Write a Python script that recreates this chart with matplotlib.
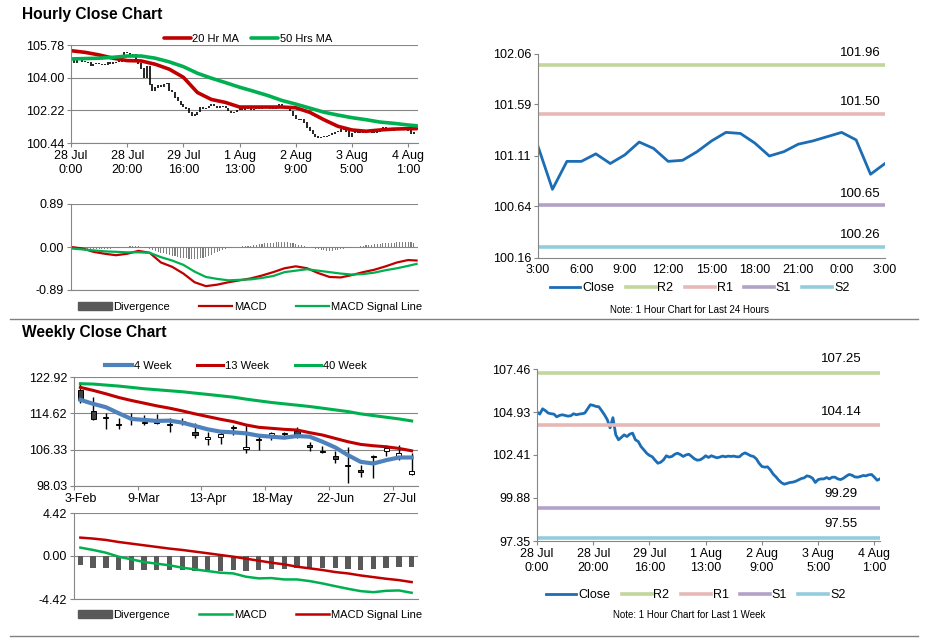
import numpy as np
import matplotlib.pyplot as plt
from matplotlib.lines import Line2D
from matplotlib.patches import Patch

plt.rcParams['font.family'] = ['Liberation Sans', 'DejaVu Sans']

W, H = 928, 638
GRAY = '#868686'
RED = '#C00000'
GREEN = '#00B050'
BLUE = '#4F81BD'
CLOSE_COL = '#1B6DB6'
LEVEL_COLS = ['#C3D69B', '#E6B9B8', '#B3A2C7', '#93CDDD']

# ---------------- hourly data (last week, one value per hour) ----------------
hourly_close = [
    104.93, 104.81, 105.12, 105.01, 104.87, 104.83, 104.81, 104.65, 104.73, 104.77,
    104.73, 104.69, 104.71, 104.83, 104.77, 104.81, 104.83, 104.87, 105.12, 105.36,
    105.32, 105.26, 105.24, 105.01, 104.77, 104.48, 104.00, 104.60, 103.60, 103.30,
    103.44, 103.59, 103.49, 103.63, 103.69, 103.30, 103.20, 102.90, 102.71, 102.51,
    102.38, 102.30, 102.10, 101.92, 101.98, 102.12, 102.36, 102.28, 102.32, 102.45,
    102.51, 102.43, 102.32, 102.41, 102.45, 102.32, 102.18, 102.10, 102.12, 102.22,
    102.36, 102.26, 102.36, 102.30, 102.24, 102.28, 102.34, 102.30, 102.34, 102.32,
    102.34, 102.30, 102.30, 102.45, 102.53, 102.45, 102.36, 102.32, 102.18, 101.92,
    101.73, 101.69, 101.71, 101.53, 101.28, 101.12, 100.92, 100.77, 100.69, 100.74,
    100.79, 100.81, 100.86, 100.94, 101.02, 101.06, 101.18, 101.14, 101.04, 100.79,
    100.96, 101.00, 101.00, 101.08, 101.00, 101.10, 101.10, 101.00, 100.96, 101.04,
    101.16, 101.26, 101.22, 101.12, 101.10, 101.14, 101.20, 101.18, 101.24, 101.26,
    101.10, 100.92, 101.00,
]
hourly_divergence = [
    -0.01, -0.02, -0.02, -0.03, -0.03, -0.04, -0.04, -0.04, -0.05, -0.05,
    -0.05, -0.05, -0.04, -0.04, -0.04, -0.03, -0.03, -0.02, -0.01, 0.00,
    0.01, 0.02, 0.03, 0.03, 0.02, 0.01, -0.01, -0.03, -0.05, -0.07,
    -0.09, -0.10, -0.12, -0.13, -0.15, -0.16, -0.18, -0.19, -0.21, -0.22,
    -0.23, -0.23, -0.24, -0.25, -0.25, -0.24, -0.23, -0.22, -0.20, -0.18,
    -0.16, -0.13, -0.11, -0.08, -0.06, -0.04, -0.03, -0.02, -0.01, 0.00,
    0.01, 0.02, 0.02, 0.03, 0.03, 0.04, 0.05, 0.06, 0.07, 0.08,
    0.08, 0.09, 0.09, 0.10, 0.10, 0.10, 0.10, 0.10, 0.09, 0.08,
    0.07, 0.05, 0.04, 0.02, 0.01, -0.01, -0.02, -0.04, -0.05, -0.06,
    -0.07, -0.08, -0.08, -0.08, -0.07, -0.06, -0.05, -0.04, -0.03, -0.02,
    -0.01, 0.00, 0.01, 0.02, 0.03, 0.04, 0.05, 0.05, 0.06, 0.07,
    0.07, 0.08, 0.08, 0.09, 0.09, 0.09, 0.10, 0.10, 0.10, 0.10,
    0.11, 0.10, 0.09,
]
ma_hours = [0, 5, 10, 15, 20, 25, 30, 35, 40, 45, 50, 55, 60, 65, 70, 75, 80, 85,
            90, 95, 100, 105, 110, 115, 120, 123]
ma20_hourly = [105.47, 105.38, 105.24, 105.06, 104.93, 104.91, 104.73, 104.46, 104.02,
               103.19, 102.81, 102.65, 102.40, 102.40, 102.40, 102.40, 102.36, 102.11,
               101.71, 101.35, 101.15, 101.08, 101.15, 101.20, 101.22, 101.22]
ma50_hourly = [105.02, 105.04, 105.06, 105.11, 105.18, 105.18, 105.06, 104.86, 104.60,
               104.24, 103.97, 103.73, 103.48, 103.26, 103.03, 102.76, 102.56, 102.34,
               102.12, 101.96, 101.82, 101.71, 101.58, 101.51, 101.42, 101.38]
macd_hours = [0, 4, 8, 12, 16, 20, 24, 28, 32, 36, 40, 44, 48, 52, 56, 60, 64, 68, 72,
              76, 80, 84, 88, 92, 96, 100, 104, 108, 112, 116, 120, 123]
macd_hourly = [0.00, -0.03, -0.10, -0.14, -0.17, -0.14, -0.08, -0.12, -0.32, -0.41,
               -0.55, -0.73, -0.81, -0.78, -0.73, -0.69, -0.65, -0.59, -0.52, -0.44,
               -0.40, -0.44, -0.54, -0.62, -0.63, -0.58, -0.52, -0.47, -0.40, -0.32,
               -0.27, -0.28]
signal_hourly = [-0.03, -0.05, -0.07, -0.09, -0.10, -0.11, -0.11, -0.12, -0.21, -0.28,
                 -0.37, -0.51, -0.62, -0.66, -0.69, -0.68, -0.67, -0.64, -0.60, -0.52,
                 -0.49, -0.46, -0.49, -0.52, -0.55, -0.57, -0.56, -0.53, -0.48, -0.44,
                 -0.39, -0.35]
hourly_tick_pos = [0, 20, 40, 60, 80, 100, 120]
hourly_tick_labels = ['28 Jul\n0:00', '28 Jul\n20:00', '29 Jul\n16:00', '1 Aug\n13:00',
                      '2 Aug\n9:00', '3 Aug\n5:00', '4 Aug\n1:00']

# ---------------- last 24 hours ----------------
close_24h = [101.20, 100.80, 101.06, 101.06, 101.13, 101.04, 101.12, 101.24, 101.18,
             101.06, 101.07, 101.15, 101.25, 101.33, 101.32, 101.23, 101.11, 101.15,
             101.22, 101.25, 101.29, 101.33, 101.26, 100.94, 101.04]
labels_24h = ['3:00', '6:00', '9:00', '12:00', '15:00', '18:00', '21:00', '0:00', '3:00']
levels_24h = [101.96, 101.50, 100.65, 100.26]
levels_week = [107.25, 104.14, 99.29, 97.55]
level_names = ['R2', 'R1', 'S1', 'S2']

# ---------------- weekly data ----------------
week_labels = ['3-Feb', '9-Mar', '13-Apr', '18-May', '22-Jun', '27-Jul']
w_open = [119.86, 115.26, 113.50, 112.10, 113.40, 112.40, 112.50, 112.00, 112.60,
          110.36, 108.67, 109.13, 111.30, 106.38, 108.60, 109.30, 109.80, 110.60,
          107.37, 106.00, 104.85, 102.50, 101.78, 104.60, 106.00, 104.85, 100.70]
w_close = [117.71, 113.27, 113.90, 112.00, 113.60, 112.60, 112.70, 112.20, 112.80,
           109.60, 109.13, 109.82, 111.50, 106.91, 108.80, 110.05, 110.00, 109.70,
           106.84, 105.80, 104.30, 102.70, 101.25, 104.85, 106.76, 105.46, 101.40]
w_high = [121.77, 118.32, 114.80, 113.50, 114.65, 114.30, 114.40, 113.65, 113.65,
          112.35, 110.44, 110.44, 111.90, 111.90, 109.82, 110.44, 110.44, 111.40,
          108.14, 107.10, 106.00, 107.00, 102.80, 105.07, 107.37, 107.37, 105.46]
w_low = [116.95, 113.12, 110.97, 110.97, 111.97, 112.00, 112.20, 110.40, 112.00,
         109.10, 107.37, 107.60, 109.70, 105.46, 106.22, 108.50, 109.30, 108.90,
         106.07, 105.46, 103.30, 98.80, 100.10, 99.94, 104.85, 103.93, 100.50]
ma4_week = [117.71, 116.79, 116.03, 114.65, 113.35, 113.12, 112.89, 112.96, 112.50,
            111.74, 110.97, 110.44, 110.28, 110.05, 109.52, 109.29, 109.06, 109.44,
            109.29, 108.14, 106.84, 105.08, 103.55, 103.16, 103.93, 104.54, 104.54]
ma13_week = [120.55, 119.86, 119.09, 118.25, 117.56, 116.95, 116.33, 115.80, 115.18,
             114.50, 113.88, 113.27, 112.73, 111.97, 111.43, 111.20, 110.97, 110.82,
             110.21, 109.67, 108.90, 108.14, 107.53, 107.22, 106.99, 106.61, 106.07]
ma40_week = [121.39, 121.31, 121.08, 120.85, 120.55, 120.24, 120.01, 119.78, 119.55,
             119.24, 118.94, 118.63, 118.32, 117.87, 117.48, 117.10, 116.79, 116.49,
             116.18, 115.80, 115.41, 115.03, 114.50, 114.11, 113.73, 113.35, 112.89]
macd_week = [0.86, 0.62, 0.34, -0.07, -0.34, -0.62, -0.79, -0.96, -1.20, -1.38, -1.55,
             -1.72, -1.79, -2.13, -2.30, -2.27, -2.41, -2.41, -2.58, -2.82, -3.10,
             -3.37, -3.61, -3.72, -3.58, -3.54, -3.78]
signal_week = [1.89, 1.79, 1.65, 1.44, 1.27, 1.10, 0.93, 0.76, 0.62, 0.45, 0.28, 0.10,
               -0.07, -0.28, -0.48, -0.69, -0.86, -1.10, -1.27, -1.44, -1.65, -1.79,
               -2.00, -2.17, -2.34, -2.48, -2.68]
div_week = [-0.96, -1.20, -1.27, -1.48, -1.48, -1.48, -1.48, -1.48, -1.48, -1.55,
            -1.48, -1.55, -1.48, -1.55, -1.48, -1.38, -1.31, -1.27, -1.27, -1.20,
            -1.27, -1.31, -1.44, -1.38, -1.20, -1.14, -1.14]

fig = plt.figure(figsize=(W / 100, H / 100), dpi=100)


def box(l, t, r, b):
    # axes placed by pixel edges (from top-left of the figure)
    return fig.add_axes([l / W, 1 - b / H, (r - l) / W, (b - t) / H])


def style(ax, grid=True):
    for s in ['top', 'right']:
        ax.spines[s].set_visible(False)
    for s in ['left', 'bottom']:
        ax.spines[s].set_color(GRAY)
        ax.spines[s].set_linewidth(0.8)
    ax.tick_params(colors=GRAY, labelcolor='black', labelsize=9, length=3, width=0.8, pad=2)
    if grid:
        ax.grid(axis='y', color=GRAY, lw=0.8)
        ax.set_axisbelow(True)


def legend(handles, labels, cx, cy, hl=2.4, cs=1.1, fs=8):
    fig.legend(handles, labels, loc='center', bbox_to_anchor=(cx / W, 1 - cy / H),
               ncol=len(handles), frameon=False, fontsize=fs, handlelength=hl,
               handletextpad=0.15, columnspacing=cs, borderaxespad=0, borderpad=0)


hours = np.arange(len(hourly_close))
opens = np.array([hourly_close[0]] + hourly_close[:-1])
closes = np.array(hourly_close)

# ---------------- titles and separators ----------------
fig.text(22 / W, 1 - 14 / H, 'Hourly Close Chart', fontsize=11.2, fontweight='bold', va='center')
fig.text(22 / W, 1 - 333 / H, 'Weekly Close Chart', fontsize=11.2, fontweight='bold', va='center')
for yy in [319, 636]:
    fig.add_artist(Line2D([10 / W, 918 / W], [1 - yy / H] * 2, color='#808080', lw=1))

# ---------------- hourly candles + MAs ----------------
ax = box(71, 45, 418, 143)
style(ax)
ax.vlines(hours, np.minimum(opens, closes), np.maximum(opens, closes) + 0.03, color='black', lw=1.2)
l20, = ax.plot(ma_hours, ma20_hourly, color=RED, lw=2.6, solid_capstyle='round')
l50, = ax.plot(ma_hours, ma50_hourly, color=GREEN, lw=2.6, solid_capstyle='round')
ax.set_xlim(0, 123.5)
ax.set_ylim(100.44, 105.78)
ax.set_yticks([100.44, 102.22, 104.00, 105.78], ['100.44', '102.22', '104.00', '105.78'])
ax.set_xticks(hourly_tick_pos, hourly_tick_labels)
legend([l20, l50], ['20 Hr MA', '50 Hrs MA'], 248, 39)

# ---------------- hourly MACD ----------------
ax = box(71, 204, 418, 290)
style(ax)
ax.bar(hours, hourly_divergence, width=0.4, color='#7F7F7F')
lm, = ax.plot(macd_hours, macd_hourly, color=RED, lw=1.6)
ls, = ax.plot(macd_hours, signal_hourly, color=GREEN, lw=1.6)
ax.set_xlim(0, 123.5)
ax.set_ylim(-0.89, 0.89)
ax.set_yticks([-0.89, 0, 0.89], ['-0.89', '0.00', '0.89'])
ax.set_xticks([])
legend([Patch(color='#595959'), lm, ls], ['Divergence', 'MACD', 'MACD Signal Line'], 250, 307, hl=3.0, cs=2.6)

# ---------------- last 24 hours ----------------
ax = box(538, 54, 885, 258)
style(ax, grid=False)
handles = []
lc, = ax.plot(range(len(close_24h)), close_24h, color=CLOSE_COL, lw=2)
handles.append(lc)
for val, col in zip(levels_24h, LEVEL_COLS):
    h = ax.axhline(val, color=col, lw=2.6)
    handles.append(h)
    ax.annotate(f'{val:.2f}', xy=(0.928, val), xycoords=('axes fraction', 'data'),
                xytext=(0, 8.5), textcoords='offset points', ha='center', va='center', fontsize=9.5)
ax.set_xlim(0, 24)
ax.set_ylim(100.16, 102.06)
ax.set_xticks(range(0, 25, 3), labels_24h)
ax.set_yticks([100.16, 100.64, 101.11, 101.59, 102.06], ['100.16', '100.64', '101.11', '101.59', '102.06'])
ax.tick_params(axis='x', length=0, pad=4)
legend(handles, ['Close'] + level_names, 700, 288, hl=2.4, cs=0.9, fs=9)
fig.text(690 / W, 1 - 310 / H, 'Note: 1 Hour Chart for Last 24 Hours', fontsize=7, ha='center', va='center')

# ---------------- weekly candles + MAs ----------------
weeks = np.arange(len(w_close))
ax = box(74, 377, 418, 486)
style(ax)
ax.vlines(weeks, w_low, w_high, color='black', lw=1)
for i in weeks:
    o, c = w_open[i], w_close[i]
    fill = '#404040' if c < o else 'white'
    ax.bar(i, max(abs(c - o), 0.25), bottom=min(o, c), width=0.4, color=fill,
           edgecolor='black', lw=0.7, zorder=3)
l4, = ax.plot(weeks, ma4_week, color=BLUE, lw=3.0, zorder=4)
l13, = ax.plot(weeks, ma13_week, color=RED, lw=2.2, zorder=4)
l40, = ax.plot(weeks, ma40_week, color=GREEN, lw=2.2, zorder=4)
ax.set_xlim(-0.5, 26.5)
ax.set_ylim(98.03, 122.92)
ax.set_yticks([98.03, 106.33, 114.62, 122.92], ['98.03', '106.33', '114.62', '122.92'])
ax.set_xticks([-0.5, 4.5, 9.5, 14.5, 19.5, 24.5], [])
ax.set_xticks(range(0, 26, 5), week_labels, minor=True)
ax.tick_params(axis='x', which='minor', length=0, labelsize=9, pad=5)
legend([l4, l13, l40], ['4 Week', '13 Week', '40 Week'], 236, 366, cs=2.3)

# ---------------- weekly MACD ----------------
ax = box(74, 513, 418, 599)
style(ax)
ax.bar(weeks, div_week, width=0.42, color='#595959')
lm, = ax.plot(weeks, macd_week, color=GREEN, lw=1.8)
ls, = ax.plot(weeks, signal_week, color=RED, lw=1.8)
ax.set_xlim(-0.5, 26.5)
ax.set_ylim(-4.42, 4.42)
ax.set_yticks([-4.42, 0, 4.42], ['-4.42', '0.00', '4.42'])
ax.set_xticks([])
legend([Patch(color='#595959'), lm, ls], ['Divergence', 'MACD', 'MACD Signal Line'], 250, 615, hl=3.0, cs=2.6)

# ---------------- last week hourly line ----------------
ax = box(537, 369, 880, 541)
style(ax, grid=False)
handles = []
lc, = ax.plot(hours, hourly_close, color=CLOSE_COL, lw=2)
handles.append(lc)
for val, col in zip(levels_week, LEVEL_COLS):
    h = ax.axhline(val, color=col, lw=2.6)
    handles.append(h)
    ax.annotate(f'{val:.2f}', xy=(0.886, val), xycoords=('axes fraction', 'data'),
                xytext=(0, 10), textcoords='offset points', ha='center', va='center', fontsize=9.5)
ax.set_xlim(0, 122)
ax.set_ylim(97.35, 107.46)
ax.set_yticks([97.35, 99.88, 102.41, 104.93, 107.46], ['97.35', '99.88', '102.41', '104.93', '107.46'])
ax.set_xticks(hourly_tick_pos, hourly_tick_labels)
legend(handles, ['Close'] + level_names, 696, 595, hl=2.4, cs=0.9, fs=9)
fig.text(689 / W, 1 - 615 / H, 'Note: 1 Hour Chart for Last 1 Week', fontsize=7, ha='center', va='center')

fig.savefig('out.png', dpi=100)
